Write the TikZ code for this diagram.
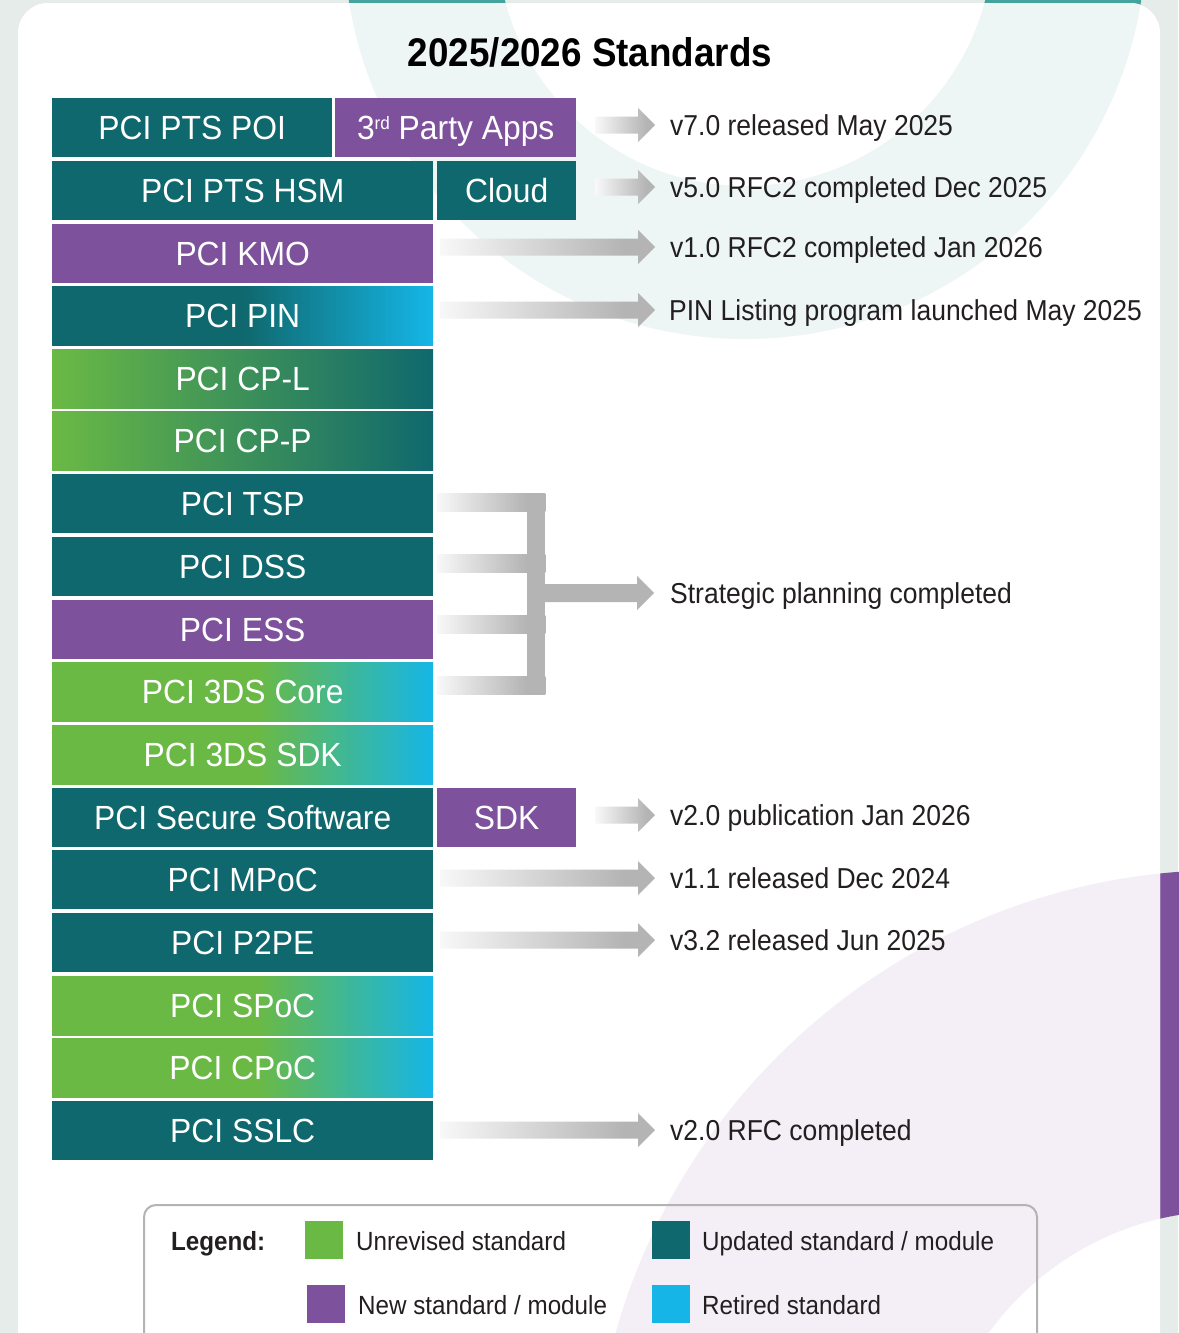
\documentclass[tikz,border=0pt]{standalone}
\usepackage{fontspec}
\setmainfont{Liberation Sans}
\newfontfamily\blkfont{Liberation Sans}[FakeStretch=0.95]
\newfontfamily\nfont{Liberation Sans}[FakeStretch=0.92]
\usetikzlibrary{calc}
\definecolor{cteal}{HTML}{0F686D}
\definecolor{cpurple}{HTML}{7E519C}
\definecolor{cgreen}{HTML}{6AB945}
\definecolor{ccyan}{HTML}{15B6E7}
\definecolor{bgout}{HTML}{E6ECE9}
\definecolor{ringteal}{HTML}{44A39D}
\definecolor{ringtealL}{HTML}{EEF6F5}
\definecolor{ringpurpL}{HTML}{F4EFF6}
\definecolor{agray}{HTML}{B4B4B4}
\definecolor{afade}{HTML}{F8F8F8}
\definecolor{txt}{HTML}{231F20}
\definecolor{lgborder}{HTML}{B3B3B3}
\pgfdeclarehorizontalshading{pinshade}{100bp}{color(0bp)=(cteal); color(50bp)=(cteal); color(75bp)=(ccyan); color(100bp)=(ccyan)}
\pgfdeclarehorizontalshading{gcshade}{100bp}{color(0bp)=(cgreen); color(52bp)=(cgreen); color(75bp)=(ccyan); color(100bp)=(ccyan)}
\pgfdeclarehorizontalshading{gtshade}{100bp}{color(0bp)=(cgreen); color(25bp)=(cgreen); color(75bp)=(cteal); color(100bp)=(cteal)}
\pgfdeclarehorizontalshading{arrowfade}{100bp}{color(0bp)=(afade); color(25bp)=(afade); color(68bp)=(agray); color(100bp)=(agray)}
\pgfdeclarehorizontalshading{barfade}{100bp}{color(0bp)=(afade); color(25bp)=(afade); color(66bp)=(agray); color(100bp)=(agray)}
\newcommand{\garrow}[2]{%
  \path[shade, shading=arrowfade] ($(#1)+(0,-8.5)$) -- ($(#2)+(-17,-8.5)$) -- ($(#2)+(-17,-17)$) -- (#2) -- ($(#2)+(-17,17)$) -- ($(#2)+(-17,8.5)$) -- ($(#1)+(0,8.5)$) -- cycle;}
\tikzset{
  blk/.style={anchor=north west, inner sep=0pt, minimum height=59pt, minimum width=381pt, text=white, font=\blkfont\fontsize{33.5}{40}\selectfont, text height=24pt, text depth=0pt},
  tealblk/.style={blk, fill=cteal},
  purpblk/.style={blk, fill=cpurple},
  pinblk/.style={blk, shade, shading=pinshade},
  gcblk/.style={blk, shade, shading=gcshade},
  gtblk/.style={blk, shade, shading=gtshade},
  note/.style={anchor=west, inner sep=0pt, text=txt, font=\nfont\fontsize{28.8}{34}\selectfont, text height=20.6pt, text depth=0pt},
  lgtext/.style={anchor=west, inner sep=0pt, text=txt, font=\nfont\fontsize{26.3}{32}\selectfont, text height=18.8pt, text depth=0pt},
  swatch/.style={anchor=north west, minimum width=38pt, minimum height=38pt, inner sep=0pt},
}
\begin{document}
\begin{tikzpicture}[x=1pt, y=-1pt]
\useasboundingbox (0,0) rectangle (1178,1333);
% background and decorative rings
\fill[bgout] (0,0) rectangle (1178,1333);
\fill[ringteal, even odd rule] (745,-62) circle[radius=401] (745,-62) circle[radius=248];
\fill[cpurple, even odd rule] (1227,1505) circle[radius=635] (1227,1505) circle[radius=294];
\fill[white, rounded corners=30pt] (18,3) rectangle (1160,1420);
\begin{scope}
  \clip[rounded corners=30pt] (18,3) rectangle (1160,1420);
  \fill[ringtealL, even odd rule] (745,-62) circle[radius=401] (745,-62) circle[radius=248];
  \fill[ringpurpL, even odd rule] (1227,1505) circle[radius=635] (1227,1505) circle[radius=294];
\end{scope}
% title
\node[inner sep=0pt, text=black, font=\nfont\bfseries\fontsize{40}{48}\selectfont, text height=28.6pt, text depth=0pt] (title) at (590,52) {2025/2026 Standards};
% blocks
\node[tealblk, minimum width=280pt] (poi) at (52,98) {PCI PTS POI};
\node[purpblk, minimum width=241pt] (apps) at (335,98) {3\raisebox{10pt}{\fontsize{18}{18}\selectfont rd} Party Apps};
\node[tealblk] (hsm) at (52,161) {PCI PTS HSM};
\node[tealblk, minimum width=139pt] (cloud) at (437,161) {Cloud};
\node[purpblk] (kmo) at (52,224) {PCI KMO};
\node[pinblk] (pin) at (52,286) {PCI PIN};
\node[gtblk] (cpl) at (52,349) {PCI CP-L};
\node[gtblk] (cpp) at (52,411) {PCI CP-P};
\node[tealblk] (tsp) at (52,474) {PCI TSP};
\node[tealblk] (dss) at (52,537) {PCI DSS};
\node[purpblk] (ess) at (52,600) {PCI ESS};
\node[gcblk] (core) at (52,662) {PCI 3DS Core};
\node[gcblk] (sdkthree) at (52,725) {PCI 3DS SDK};
\node[tealblk] (sss) at (52,788) {PCI Secure Software};
\node[purpblk, minimum width=139pt] (sdk) at (437,788) {SDK};
\node[tealblk] (mpoc) at (52,850) {PCI MPoC};
\node[tealblk] (ptpe) at (52,913) {PCI P2PE};
\node[gcblk] (spoc) at (52,976) {PCI SPoC};
\node[gcblk] (cpoc) at (52,1038) {PCI CPoC};
\node[tealblk] (sslc) at (52,1101) {PCI SSLC};
% notes
\node[note] (t1) at (670,125) {v7.0 released May 2025};
\node[note] (t2) at (670,187) {v5.0 RFC2 completed Dec 2025};
\node[note] (t3) at (670,247) {v1.0 RFC2 completed Jan 2026};
\node[note] (t4) at (669,310) {PIN Listing program launched May 2025};
\node[note] (t5) at (670,593) {Strategic planning completed};
\node[note] (t6) at (670,815) {v2.0 publication Jan 2026};
\node[note] (t7) at (670,878) {v1.1 released Dec 2024};
\node[note] (t8) at (670,940) {v3.2 released Jun 2025};
\node[note] (t9) at (670,1130) {v2.0 RFC completed};
% arrows
\coordinate (a1s) at ($(apps.east |- t1.west)+(19,0)$);
\coordinate (a1e) at ($(t1.west)+(-15,0)$);
\garrow{a1s}{a1e}
\coordinate (a2s) at ($(cloud.east |- t2.west)+(19,0)$);
\coordinate (a2e) at ($(t2.west)+(-15,0)$);
\garrow{a2s}{a2e}
\coordinate (a3s) at ($(kmo.east |- t3.west)+(7,0)$);
\coordinate (a3e) at ($(t3.west)+(-15,0)$);
\garrow{a3s}{a3e}
\coordinate (a4s) at ($(pin.east |- t4.west)+(7,0)$);
\coordinate (a4e) at ($(t4.west)+(-14,0)$);
\garrow{a4s}{a4e}
\coordinate (a6s) at ($(sdk.east |- t6.west)+(19,0)$);
\coordinate (a6e) at ($(t6.west)+(-15,0)$);
\garrow{a6s}{a6e}
\coordinate (a7s) at ($(mpoc.east |- t7.west)+(7,0)$);
\coordinate (a7e) at ($(t7.west)+(-15,0)$);
\garrow{a7s}{a7e}
\coordinate (a8s) at ($(ptpe.east |- t8.west)+(7,0)$);
\coordinate (a8e) at ($(t8.west)+(-15,0)$);
\garrow{a8s}{a8e}
\coordinate (a9s) at ($(sslc.east |- t9.west)+(7,0)$);
\coordinate (a9e) at ($(t9.west)+(-15,0)$);
\garrow{a9s}{a9e}
% bracket
\coordinate (b1) at ($(tsp.east)+(4,-1.5)$);
\coordinate (b2) at ($(dss.east)+(4,-3.5)$);
\coordinate (b3) at ($(ess.east)+(4,-5)$);
\coordinate (b4) at ($(core.east)+(4,-6)$);
\foreach \b in {b1,b2,b3,b4}
  \path[shade, shading=barfade] ($(\b)+(0,-9)$) rectangle ($(\b)+(108,9)$);
\fill[agray] ($(b1)+(90,-9)$) rectangle ($(b4)+(108,9)$);
\coordinate (bs) at ($(b1 |- t5.west)+(106,0)$);
\coordinate (be) at ($(t5.west)+(-16,0)$);
\fill[agray] ($(bs)+(0,-9)$) -- ($(be)+(-17,-9)$) -- ($(be)+(-17,-17)$) -- (be) -- ($(be)+(-17,17)$) -- ($(be)+(-17,9)$) -- ($(bs)+(0,9)$) -- cycle;
% legend
\node[draw=lgborder, line width=2pt, rounded corners=12pt, anchor=north west, minimum width=893pt, minimum height=160pt, inner sep=0pt] (legend) at (143,1204) {};
\node[lgtext, font=\nfont\bfseries\fontsize{26.3}{32}\selectfont] (lgtitle) at (171,1241) {Legend:};
\node[swatch, fill=cgreen] (sw1) at (305,1221) {};
\node[lgtext] (lt1) at (356,1241) {Unrevised standard};
\node[swatch, fill=cteal] (sw2) at (652,1221) {};
\node[lgtext] (lt2) at (702,1241) {Updated standard / module};
\node[swatch, fill=cpurple] (sw3) at (307,1285) {};
\node[lgtext] (lt3) at (358,1305) {New standard / module};
\node[swatch, fill=ccyan] (sw4) at (652,1285) {};
\node[lgtext] (lt4) at (702,1305) {Retired standard};
\end{tikzpicture}
\end{document}
